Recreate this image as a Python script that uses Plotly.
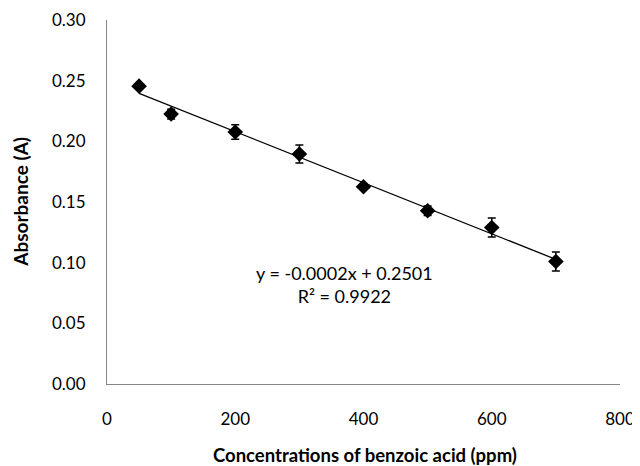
import numpy as np
import plotly.graph_objects as go

conc = [50, 100, 200, 300, 400, 500, 600, 700]
absorbance = [0.2455, 0.2225, 0.2077, 0.1896, 0.1626, 0.1428, 0.1290, 0.1010]
err = [0.002, 0.004, 0.006, 0.0074, 0.002, 0.004, 0.0078, 0.0078]

eq_text = "y = -0.0002x + 0.2501"
r2_text = "R² = 0.9922"
x_title = "Concentrations of benzoic acid (ppm)"
y_title = "Absorbance (A)"

slope, intercept = np.polyfit(conc, absorbance, 1)
fit_x = [min(conc), max(conc)]
fit_y = [slope * v + intercept for v in fit_x]

font = "Lato, Open Sans, sans-serif"

fig = go.Figure()
fig.add_trace(go.Scatter(x=fit_x, y=fit_y, mode="lines",
                         line=dict(color="black", width=1.3), showlegend=False, hoverinfo="skip"))
fig.add_trace(go.Scatter(x=conc, y=absorbance, mode="markers",
                         marker=dict(symbol="diamond", size=12, color="black"),
                         error_y=dict(type="data", array=err, visible=True, color="black",
                                      thickness=1.5, width=4),
                         showlegend=False))

fig.add_annotation(x=370, y=0.0816, xref="x", yref="y", text=eq_text + "<br>" + r2_text,
                   showarrow=False, align="center",
                   font=dict(family=font, size=18, color="black"))

fig.add_annotation(x=0.502, y=-0.195, xref="paper", yref="paper", text="<b>" + x_title + "</b>",
                   showarrow=False, xanchor="center", yanchor="middle",
                   font=dict(family=font, size=18.5, color="black"))
fig.add_annotation(x=-0.170, y=0.5, xref="paper", yref="paper", text="<b>" + y_title + "</b>",
                   showarrow=False, xanchor="center", yanchor="middle", textangle=-90,
                   font=dict(family=font, size=19, color="black"))

axis_common = dict(showgrid=False, zeroline=False, showline=True, linecolor="#868686",
                   linewidth=1, ticks="outside", tickcolor="rgba(0,0,0,0)", automargin=False,
                   tickfont=dict(family=font, size=17, color="black"))

fig.update_xaxes(range=[0, 800], tickvals=[0, 200, 400, 600, 800], ticklen=20, **axis_common)
fig.update_yaxes(range=[0, 0.30], tickvals=[0, 0.05, 0.10, 0.15, 0.20, 0.25, 0.30],
                 tickformat=".2f", ticklen=17, **axis_common)

fig.update_layout(width=632, height=458, margin=dict(l=99, r=20, t=12, b=82),
                  plot_bgcolor="white", paper_bgcolor="white")

fig.write_html("out.html")
